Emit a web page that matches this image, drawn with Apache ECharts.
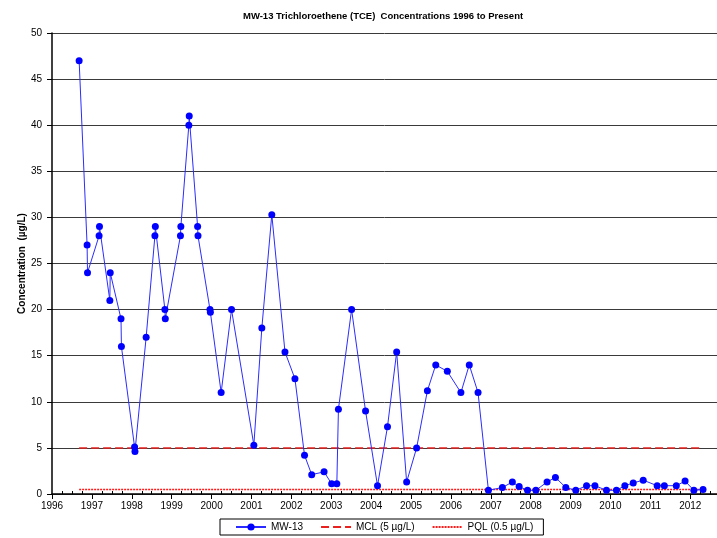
<!DOCTYPE html>
<html>
<head>
<meta charset="utf-8">
<script src="https://cdn.jsdelivr.net/npm/echarts@6/dist/echarts.min.js"></script>
<style>
  html, body { margin: 0; padding: 0; background: #fff; }
  #chart { width: 717px; height: 538px; }
</style>
</head>
<body>
<div id="chart"></div>
<script>
// sample dates (decimal years) and TCE results, ug/L
var sampleYears = [
    1996.68, 1996.88, 1996.89, 1997.18, 1997.19, 1997.45, 1997.46, 1997.73, 1997.74,
    1998.07, 1998.08, 1998.36, 1998.58, 1998.59, 1998.83, 1998.84, 1999.22, 1999.23,
    1999.43, 1999.44, 1999.65, 1999.66, 1999.96, 1999.97, 2000.24, 2000.50, 2001.06,
    2001.26, 2001.51, 2001.84, 2002.09, 2002.33, 2002.51, 2002.82, 2003.01, 2003.14,
    2003.18, 2003.51, 2003.86, 2004.16, 2004.41, 2004.64, 2004.89, 2005.14, 2005.41,
    2005.62, 2005.91, 2006.25, 2006.46, 2006.68, 2006.94, 2007.29, 2007.54, 2007.71,
    2007.92, 2008.13, 2008.41, 2008.62, 2008.88, 2009.13, 2009.40, 2009.61, 2009.90,
    2010.15, 2010.36, 2010.57, 2010.82, 2011.17, 2011.35, 2011.65, 2011.87, 2012.09,
    2012.32
];
var mw13 = [
    47, 27, 24, 28, 29, 21, 24, 19, 16,
    5.1, 4.6, 17, 28, 29, 20, 19, 28, 29,
    40, 41, 29, 28, 20, 19.7, 11, 20, 5.3,
    18, 30.3, 15.4, 12.5, 4.2, 2.1, 2.4, 1.1, 1.1,
    9.2, 20, 9, 0.9, 7.3, 15.4, 1.3, 5, 11.2,
    14, 13.3, 11, 14, 11, 0.4, 0.7, 1.3, 0.8,
    0.4, 0.4, 1.3, 1.8, 0.7, 0.4, 0.9, 0.9, 0.4,
    0.4, 0.9, 1.2, 1.5, 0.9, 0.9, 0.9, 1.4, 0.4,
    0.5
];
var limitYears = [1996.68, 2012.32];
var mcl = [5, 5];
var pql = [0.5, 0.5];

function pairs(xs, ys) {
    return xs.map(function (x, i) { return [x, ys[i]]; });
}

var chart = echarts.init(document.getElementById('chart'));

chart.setOption({
    animation: false,
    title: {
        text: 'MW-13 Trichloroethene (TCE)  Concentrations 1996 to Present',
        left: 238,
        top: 6,
        textStyle: { fontFamily: 'Liberation Sans', fontSize: 9.5, fontWeight: 'bold', color: '#000' }
    },
    legend: {
        left: 220,
        top: 519,
        itemWidth: 30,
        itemHeight: 9,
        itemGap: 17,
        padding: [3, 10, 3, 15],
        borderColor: '#000',
        borderWidth: 1,
        textStyle: { fontFamily: 'Liberation Sans', fontSize: 10, color: '#000' },
        data: [
            'MW-13',
            { name: 'MCL (5 µg/L)', itemStyle: { opacity: 0 } },
            { name: 'PQL (0.5 µg/L)', itemStyle: { opacity: 0 } }
        ]
    },
    grid: { left: 52, right: 0, top: 33, bottom: 44 },
    xAxis: {
        type: 'value',
        min: 1996,
        max: 2012.67,
        interval: 1,
        axisLine: { lineStyle: { color: '#000', width: 1.5 } },
        axisTick: { show: true, length: 5, lineStyle: { color: '#000' } },
        minorTick: { show: true, splitNumber: 4, length: -3, lineStyle: { color: '#000' } },
        splitLine: { show: false },
        axisLabel: {
            showMaxLabel: false,
            fontFamily: 'Liberation Sans',
            fontSize: 10,
            color: '#000',
            margin: 7,
            formatter: function (v) { return v % 1 === 0 ? String(v) : ''; }
        }
    },
    yAxis: {
        type: 'value',
        min: 0,
        max: 50,
        interval: 5,
        name: 'Concentration  (µg/L)',
        nameLocation: 'middle',
        nameGap: 25,
        nameMoveOverlap: false,
        nameTextStyle: { fontFamily: 'Liberation Sans', fontSize: 10, fontWeight: 'bold', color: '#000' },
        axisLine: { show: true, lineStyle: { color: '#000', width: 1.5 } },
        axisTick: { show: true, length: 5, lineStyle: { color: '#000' } },
        splitLine: { show: true, lineStyle: { color: '#3a3a3a', width: 1 } },
        axisLabel: { fontFamily: 'Liberation Sans', fontSize: 10, color: '#000', margin: 10 }
    },
    series: [
        {
            name: 'MW-13',
            type: 'line',
            data: pairs(sampleYears, mw13),
            symbol: 'circle',
            symbolSize: 7,
            itemStyle: { color: '#0000ff' },
            lineStyle: { color: '#2b2bff', width: 1 },
            z: 5
        },
        {
            name: 'MCL (5 µg/L)',
            type: 'line',
            data: pairs(limitYears, mcl),
            symbol: 'none',
            itemStyle: { color: '#ff0000' },
            lineStyle: { color: '#e8201e', width: 1.5, type: [8, 4] },
            z: 3
        },
        {
            name: 'PQL (0.5 µg/L)',
            type: 'line',
            data: pairs(limitYears, pql),
            symbol: 'none',
            itemStyle: { color: '#ff0000' },
            lineStyle: { color: '#ff1a1a', width: 1.5, type: [2, 1] },
            z: 3
        }
    ]
});
</script>
</body>
</html>
